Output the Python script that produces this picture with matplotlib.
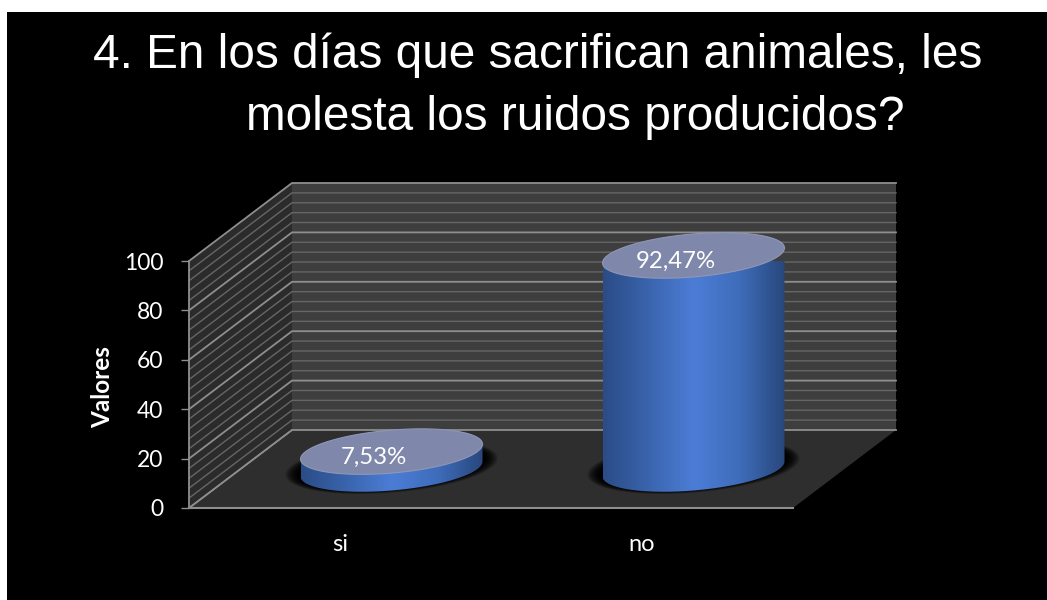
import numpy as np
import matplotlib
matplotlib.use('Agg')
import matplotlib.pyplot as plt
from matplotlib.colors import LinearSegmentedColormap
from matplotlib.patches import Polygon, Rectangle

categories = ['si', 'no']
values = [7.53, 92.47]
value_labels = ['7,53%', '92,47%']
major_ticks = [0, 20, 40, 60, 80, 100]
minor_ticks = list(range(0, 101, 4))
title_lines = ['4. En los días que sacrifican animales, les', 'molesta los ruidos producidos?']

W, H = 1047, 600
# front plane of the 3D box, in pixels from the top left
LEFT, RIGHT, BOTTOM, TOP = 189, 793, 508, 261
# how far the back wall is shifted, in axis units
DEPTH_X = 103 / 302
DEPTH_Y = 78 / 2.47
# cylinders stand mid floor, height foreshortened a little
HEIGHT_SCALE = 0.935
RX = 91 / 302
RY = 21.5 / 2.47
SKEW = 7.5 / 2.47


def depth(x, y, d):
    return x + d * DEPTH_X, y + d * DEPTH_Y


def ellipse(cx, cy, t, rx=RX, ry=RY, skew=SKEW):
    return cx + rx * np.cos(t), cy + ry * np.sin(t) + skew * np.cos(t)


def quad(ax, pts, color, z):
    ax.add_patch(Polygon(pts, closed=True, fc=color, ec='none', zorder=z, clip_on=False))


fig = plt.figure(figsize=(W / 100, H / 100), dpi=100, facecolor='white')
fig.add_artist(Rectangle((7 / W, 0), 1 - 7 / W, 1 - 12 / H, transform=fig.transFigure, fc='black', ec='none', zorder=-1))
ax = fig.add_axes([LEFT / W, 1 - BOTTOM / H, (RIGHT - LEFT) / W, (BOTTOM - TOP) / H])
ax.patch.set_alpha(0)
ax.set_xlim(0, len(categories))
ax.set_ylim(0, 100)
for s in ax.spines.values():
    s.set_visible(False)

# walls and floor
bx0, by0 = depth(0, 0, 1)
bx1, by1 = depth(2, 100, 1)
quad(ax, [(bx0, by0), (bx1, by0), (bx1, by1), (bx0, by1)], '#3e3e3e', 1)
quad(ax, [(0, 0), (bx0, by0), (bx0, by1), (0, 100)], '#2b2b2b', 1)
quad(ax, [(0, 0), (2, 0), (bx1, by0), (bx0, by0)], '#2e2e2e', 1)

# gridlines run along the side wall and across the back wall
for v in minor_ticks:
    major = v in major_ticks
    col = '#8e8e8e' if major else '#666666'
    lw = 1.3 if major else 1.0
    x1, y1 = depth(0, v, 1)
    x2, y2 = depth(2, v, 1)
    ax.plot([0, x1, x2], [v, y1, y2], color=col, lw=lw, zorder=2, clip_on=False, solid_joinstyle='miter')
ax.plot([0, 0], [0, 100], color='#8e8e8e', lw=1.3, zorder=3, clip_on=False)
ax.plot([0, 2], [0, 0], color='#8e8e8e', lw=1.5, zorder=3, clip_on=False)
ax.plot([0, bx0], [0, by0], color='#8e8e8e', lw=1.0, zorder=3, clip_on=False)

body_cmap = LinearSegmentedColormap.from_list('body', ['#2b4c86', '#3a64ad', '#4c7dd6', '#3f6dbb', '#28477c'])
ramp = np.linspace(0, 1, 256).reshape(1, -1)
t_full = np.linspace(0, 2 * np.pi, 200)

for i, (cat, val, lab) in enumerate(zip(categories, values, value_labels)):
    cx, base = depth(i + 0.5, 0, 0.5)
    top = base + val * HEIGHT_SCALE

    # soft black shadow on the floor
    for k in range(30):
        f = k / 29
        sx, sy = ellipse(cx, base + 1.0, t_full, RX * (1.17 - 0.17 * f), RY * (1.22 - 0.22 * f), SKEW * 1.1)
        ax.fill(sx, sy, color='black', alpha=0.06 + 0.05 * f, lw=0, zorder=4, clip_on=False)

    # side of the cylinder: horizontal gradient clipped to the outline
    t_low = np.linspace(np.pi, 2 * np.pi, 100)
    t_up = np.linspace(0, np.pi, 100)
    bx, by = ellipse(cx, base, t_low)
    ux, uy = ellipse(cx, top, t_up)
    outline = Polygon(np.column_stack([np.r_[bx, ux], np.r_[by, uy]]), closed=True, transform=ax.transData, fc='none', ec='none')
    ax.add_patch(outline)
    im = ax.imshow(ramp, cmap=body_cmap, extent=[cx - RX, cx + RX, base - 2 * RY, top + 2 * RY], aspect='auto', zorder=5)
    im.set_clip_path(outline)

    # lid
    lx, ly = ellipse(cx, top, t_full)
    ax.fill(lx, ly, color='#7f88aa', lw=0, zorder=6, clip_on=False)
    ax.plot(lx, ly, color='#8e97b6', lw=0.8, zorder=6, clip_on=False)
    ax.text(cx - 18 / 302, top - 5.5 / 2.47, lab, color='white', fontsize=17.3, family='Lato', ha='center', va='center', zorder=7)

ax.set_xlim(0, len(categories))
ax.set_ylim(0, 100)
ax.set_xticks([i + 0.5 for i in range(len(categories))])
ax.set_xticklabels(categories)
ax.set_yticks(major_ticks)
ax.tick_params(axis='x', length=0, pad=19, labelcolor='white', labelsize=17, labelfontfamily='Lato')
ax.tick_params(axis='y', length=5.5, width=1, color='#8e8e8e', pad=13, labelcolor='white', labelsize=16.5, labelfontfamily='Lato')
ax.set_ylabel('Valores', color='white', fontsize=17.5, fontweight='bold', family='Lato')
ax.yaxis.set_label_coords((114 - LEFT) / (RIGHT - LEFT), (BOTTOM - 387) / (BOTTOM - TOP), transform=ax.transAxes)

fig.text(537.5 / W, 1 - 68 / H, title_lines[0], color='white', fontsize=34.4, family='Liberation Sans', ha='center', va='baseline')
fig.text(575 / W, 1 - 130 / H, title_lines[1], color='white', fontsize=34.4, family='Liberation Sans', ha='center', va='baseline')

fig.savefig('out.png', dpi=100, facecolor=fig.get_facecolor())
